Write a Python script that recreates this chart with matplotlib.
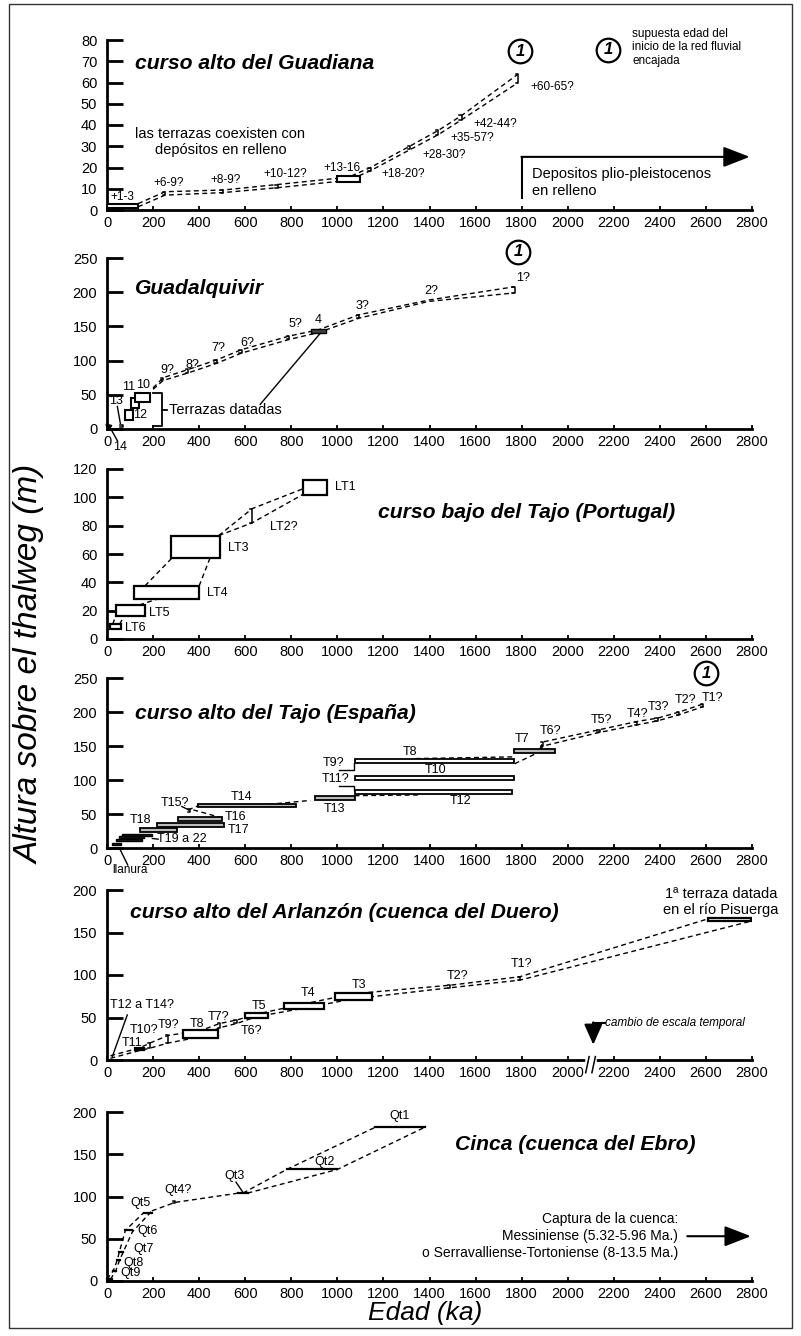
import matplotlib.pyplot as plt
from matplotlib.patches import Rectangle

plt.rcParams['font.family'] = ['Liberation Sans', 'DejaVu Sans']

W, H = 801, 1336
x_ticks = list(range(0, 2801, 200))

# panel frames in pixels: (row of y=0, row of y=max)
panel_px = [(210, 40), (429, 258), (639, 469), (848, 678), (1060, 890), (1281, 1112)]
panel_ymax = [80, 250, 120, 250, 200, 200]
panel_ystep = [10, 50, 20, 50, 50, 50]
panel_titles = ['curso alto del Guadiana', 'Guadalquivir', 'curso bajo del Tajo (Portugal)',
                'curso alto del Tajo (España)', 'curso alto del Arlanzón (cuenca del Duero)',
                'Cinca (cuenca del Ebro)']
title_x = [123, 123, 1178, 123, 101, 1512]
title_y = [69, 206, 89.6, 198.5, 174, 161]

# ---- curso alto del Guadiana
gd_box_x0 = [0, 1000]
gd_box_x1 = [135, 1100]
gd_box_y0 = [1, 13]
gd_box_y1 = [3, 16]
gd_x = [135, 252, 504, 741, 1050, 1144, 1317, 1439, 1540, 1785]
gd_lo = [1.5, 7.0, 8.2, 10.5, 14, 18.5, 28.5, 35.5, 42.5, 60]
gd_hi = [3.0, 8.6, 9.4, 12.0, 15.5, 20, 30.2, 37.5, 44.5, 64]
gd_lab = ['+1-3', '+6-9?', '+8-9?', '+10-12?', '+13-16', '+18-20?', '+28-30?', '+35-57?', '+42-44?', '+60-65?']
gd_lab_x = [66, 266, 513, 774, 1021, 1286, 1464, 1586, 1686, 1933]
gd_lab_y = [6.3, 12.7, 14.1, 16.9, 19.8, 16.9, 25.9, 33.9, 40.5, 57.9]

# ---- Guadalquivir
gq_box_x0 = [105, 122, 80]
gq_box_x1 = [140, 188, 115]
gq_box_y0 = [31, 40, 13]
gq_box_y1 = [45, 52, 28]
gq_dated_x = [886, 950]
gq_dated_y = [140, 146]
gq_x = [200, 244, 352, 476, 584, 792, 918, 1094, 1396, 1770]
gq_lo = [58, 71, 82, 96, 111, 131, 141, 162, 186.5, 199]
gq_hi = [60, 75, 87, 101, 116, 136, 145, 167, 188.5, 208]
gq_lab = ['9?', '8?', '7?', '6?', '5?', '4', '3?', '2?', '1?', '10', '11', '12', '13', '14']
gq_lab_x = [262, 371, 483, 609, 817, 917, 1108, 1408, 1807, 158, 92, 145, 40, 55]
gq_lab_y = [86, 93.6, 118, 126, 153.5, 159, 180, 202, 221, 64, 61, 20, 41, -27]

# ---- curso bajo del Tajo (Portugal)
tp_box_x0 = [850, 277, 118, 40, 15]
tp_box_x1 = [955, 490, 400, 165, 60]
tp_box_y0 = [102, 57, 28, 16.5, 7]
tp_box_y1 = [112, 73, 37.5, 24, 10.5]
tp_lab = ['LT1', 'LT2?', 'LT3', 'LT4', 'LT5', 'LT6']
tp_lab_x = [990, 709, 526, 435, 184, 80]
tp_lab_y = [107, 79, 64, 32.5, 18.4, 7.8]
tp_up_x = [485, 630, 850]
tp_up_y = [73, 92, 106]
tp_dn_x = [485, 630, 850]
tp_dn_y = [73, 82, 102]
tp_seg_x0 = [25, 55, 140, 165, 400]
tp_seg_y0 = [10.5, 10.5, 24, 37.5, 37.5]
tp_seg_x1 = [38, 75, 215, 281, 447]
tp_seg_y1 = [16.5, 16.5, 28, 57, 57]

# ---- curso alto del Tajo (España)
ta_box_x0 = [1075, 1075, 1075, 905, 395, 310, 215, 145, 1765]
ta_box_x1 = [1765, 1765, 1760, 1075, 820, 500, 510, 305, 1945]
ta_box_y0 = [125, 100, 79, 70, 60, 39, 31, 24, 140]
ta_box_y1 = [131, 106, 85, 76, 65, 45, 37, 30, 145]
ta_box_grey = [False, False, False, True, True, True, True, True, True]
ta_low_x0 = [67, 53, 40, 20]
ta_low_x1 = [197, 160, 150, 60]
ta_low_y0 = [18, 14, 10, 4]
ta_low_y1 = [21, 17, 13, 7]
ta_seg_x0 = [352, 375, 666, 1075, 1340, 1770]
ta_seg_y0 = [56, 56, 63, 77, 131.5, 124]
ta_seg_x1 = [395, 492, 883, 1360, 1765, 1870]
ta_seg_y1 = [62, 45, 70, 78, 134, 140]
ta_x = [1880, 1893, 2138, 2300, 2390, 2484, 2589]
ta_lo = [144, 150, 170, 181, 187, 196, 208]
ta_hi = [146, 156, 174, 186, 191, 200, 212]
ta_lab = ['T8', 'T9?', 'T10', 'T11?', 'T12', 'T13', 'T14', 'T15?', 'T16', 'T17', 'T18', 'T19 a 22',
          'llanura', 'T7', 'T6?', 'T5?', 'T4?', 'T3?', 'T2?', 'T1?']
ta_lab_x = [1317, 982, 1425, 991, 1533, 987, 583, 297, 557, 570, 145, 323,
            100, 1803, 1924, 2146, 2302, 2393, 2510, 2627]
ta_lab_y = [141, 125, 115, 101.5, 69, 57, 75, 66, 45.6, 26.5, 41, 13,
            -33, 160, 172, 188, 197, 207, 217.6, 220.6]

# ---- curso alto del Arlanzón
ar_box_x0 = [120, 330, 600, 770, 990, 2610]
ar_box_x1 = [160, 480, 700, 940, 1150, 2795]
ar_box_y0 = [12, 26, 50, 60, 71, 163]
ar_box_y1 = [14, 35, 55, 67, 79, 167]
ar_x = [15, 140, 187, 266, 400, 490, 563, 650, 855, 1070, 1490, 1793]
ar_lo = [2, 11, 14, 20, 27, 38, 43, 51, 61, 72, 85, 94]
ar_hi = [5, 14, 20, 29, 34, 43, 47, 54, 66, 78, 88, 98]
ar_end_lo = [2790, 163]
ar_end_hi = [2620, 167]
ar_lab = ['T12 a T14?', 'T11', 'T10?', 'T9?', 'T8', 'T7?', 'T6?', 'T5', 'T4', 'T3', 'T2?', 'T1?']
ar_lab_x = [150, 110, 162, 266, 392, 483, 626, 661, 874, 1095, 1520, 1798]
ar_lab_y = [64.7, 20, 35, 41, 42, 50.6, 34, 63.5, 79, 88, 99, 113]

# ---- Cinca
ci_seg_x0 = [1165, 780, 570, 160, 80, 53, 45, 27, 0]
ci_seg_x1 = [1380, 1000, 610, 195, 110, 70, 55, 38, 20]
ci_seg_y = [182, 132, 104, 81, 60, 34, 25, 12, 2]
ci_lu_x = [0, 27, 45, 53, 80, 160]
ci_lu_y = [2, 12, 25, 34, 60, 81]
ci_ld_x = [15, 38, 55, 70, 110, 195]
ci_ld_y = [2, 12, 25, 34, 58, 83]
ci_mid_x = [195, 295, 570]
ci_mid_y = [83, 93, 104]
ci_ru_x = [590, 780, 1165]
ci_ru_y = [104, 132, 182]
ci_rd_x = [610, 1000, 1380]
ci_rd_y = [104, 132, 182]
ci_lab = ['Qt1', 'Qt2', 'Qt3', 'Qt4?', 'Qt5']
ci_lab_x = [1269, 945, 553, 310, 145]
ci_lab_y = [195, 141, 124, 108, 92]
ci_lab2 = ['Qt6', 'Qt7', 'Qt8', 'Qt9']
ci_lab2_x = [132, 115, 72, 58]
ci_lab2_y = [59, 38, 21, 9.5]

DASH = (0, (3.5, 2.5))


def box(ax, x0, x1, y0, y1, fc='white', lw=1.3):
    ax.add_patch(Rectangle((x0, y0), x1 - x0, y1 - y0, fc=fc, ec='black', lw=lw, zorder=4))


def dash(ax, xs, ys, lw=1.0):
    ax.plot(xs, ys, color='black', lw=lw, ls=DASH, zorder=3, clip_on=False)


def qmark(ax, xs, lo, hi):
    for x, a, b in zip(xs, lo, hi):
        ax.plot([x - 10, x, x, x - 10], [a, a, b, b], color='black', lw=1.1, zorder=4)


def circle_one(ax, x, y):
    ax.plot(x, y, 'o', ms=17, mfc='white', mec='black', mew=1.6, clip_on=False, zorder=6)
    ax.text(x, y, '1', ha='center', va='center', fontsize=12, fontweight='bold',
            style='italic', zorder=7, clip_on=False)


def labels(ax, txt, xs, ys, ha='center', fs=8.5):
    for t, x, y in zip(txt, xs, ys):
        ax.text(x, y, t, ha=ha, va='center', fontsize=fs, clip_on=False, zorder=6)


def line(ax, xs, ys, lw=1.0):
    ax.plot(xs, ys, color='black', lw=lw, zorder=5, clip_on=False)


fig = plt.figure(figsize=(W / 100, H / 100), dpi=100)
axes = []
for i, (p0, p1) in enumerate(panel_px):
    ax = fig.add_axes([107 / W, 1 - p0 / H, 645 / W, (p0 - p1) / H])
    ax.set_xlim(0, 2800)
    ax.set_ylim(0, panel_ymax[i])
    ax.set_xticks(x_ticks)
    ax.set_yticks(range(0, panel_ymax[i] + 1, panel_ystep[i]))
    for s in ['top', 'right']:
        ax.spines[s].set_visible(False)
    for s in ['left', 'bottom']:
        ax.spines[s].set_linewidth(2)
    ax.tick_params(axis='y', direction='in', length=11.5, width=2, pad=7, labelsize=10.5)
    ax.tick_params(axis='x', direction='in', length=3, width=1.3, pad=4, labelsize=10.5)
    ax.text(title_x[i], title_y[i], panel_titles[i], fontsize=15.2, fontweight='bold',
            style='italic', va='center', ha='left')
    axes.append(ax)

# 1 Guadiana
ax = axes[0]
dash(ax, gd_x, gd_lo)
dash(ax, gd_x, gd_hi)
for a, b, c, d in zip(gd_box_x0, gd_box_x1, gd_box_y0, gd_box_y1):
    box(ax, a, b, c, d, lw=1.5)
qmark(ax, gd_x[1:4] + gd_x[5:], gd_lo[1:4] + gd_lo[5:], gd_hi[1:4] + gd_hi[5:])
labels(ax, gd_lab, gd_lab_x, gd_lab_y)
circle_one(ax, 1794, 74.8)
circle_one(ax, 2176, 75.3)
ax.text(2280, 76.5, 'supuesta edad del\ninicio de la red fluvial\nencajada', fontsize=8.5,
        va='center', ha='left', linespacing=1.15)
ax.text(492, 32, 'las terrazas coexisten con\ndepósitos en relleno', fontsize=10.5,
        ha='center', va='center', linespacing=1.25)
line(ax, [1800, 1800], [5.5, 25], lw=1.5)
ax.annotate('', xy=(2790, 25), xytext=(1799, 25),
            arrowprops=dict(arrowstyle='-|>,head_length=0.9,head_width=0.35', lw=1.5,
                            color='black', mutation_scale=18, shrinkA=0, shrinkB=0))
ax.text(1846, 13, 'Depositos plio-pleistocenos\nen relleno', fontsize=10.5, ha='left',
        va='center', linespacing=1.25)

# 2 Guadalquivir
ax = axes[1]
dash(ax, gq_x, gq_lo)
dash(ax, gq_x, gq_hi)
for a, b, c, d in zip(gq_box_x0, gq_box_x1, gq_box_y0, gq_box_y1):
    box(ax, a, b, c, d, lw=1.5)
box(ax, gq_dated_x[0], gq_dated_x[1], gq_dated_y[0], gq_dated_y[1], fc='#444444', lw=1.0)
qmark(ax, gq_x[1:6] + gq_x[7:8] + gq_x[9:], gq_lo[1:6] + gq_lo[7:8] + gq_lo[9:],
      gq_hi[1:6] + gq_hi[7:8] + gq_hi[9:])
labels(ax, gq_lab, gq_lab_x, gq_lab_y, fs=9)
qmark(ax, [68], [3], [6])
line(ax, [45, 58], [33, 8])
line(ax, [10, 45], [4, -17])
ax.plot(6, 4, marker=(3, 0, 45), ms=5, color='black', clip_on=False, zorder=5)
line(ax, [200, 240, 240, 200], [52, 52, 5, 5], lw=1.3)
line(ax, [240, 262], [28, 28], lw=1.3)
ax.text(268, 28, 'Terrazas datadas', fontsize=10.5, va='center', ha='left')
line(ax, [926, 665], [140, 36])
circle_one(ax, 1785, 259)

# 3 Tajo Portugal
ax = axes[2]
dash(ax, tp_up_x, tp_up_y)
dash(ax, tp_dn_x, tp_dn_y)
for a, b, c, d in zip(tp_seg_x0, tp_seg_y0, tp_seg_x1, tp_seg_y1):
    dash(ax, [a, c], [b, d])
for a, b, c, d in zip(tp_box_x0, tp_box_x1, tp_box_y0, tp_box_y1):
    box(ax, a, b, c, d, lw=1.6)
qmark(ax, [630], [82], [92])
labels(ax, tp_lab, tp_lab_x, tp_lab_y, ha='left', fs=9)

# 4 Tajo Espana
ax = axes[3]
for a, b, c, d in zip(ta_seg_x0, ta_seg_y0, ta_seg_x1, ta_seg_y1):
    dash(ax, [a, c], [b, d])
dash(ax, ta_x, ta_lo)
dash(ax, ta_x, ta_hi)
for a, b, c, d, g in zip(ta_box_x0, ta_box_x1, ta_box_y0, ta_box_y1, ta_box_grey):
    box(ax, a, b, c, d, fc='#bbbbbb' if g else 'white', lw=1.3)
for a, b, c, d in zip(ta_low_x0, ta_low_x1, ta_low_y0, ta_low_y1):
    box(ax, a, b, c, d, fc='#222222', lw=1.0)
qmark(ax, ta_x[1:], ta_lo[1:], ta_hi[1:])
qmark(ax, [360], [53], [58])
labels(ax, ta_lab[:12] + ta_lab[13:], ta_lab_x[:12] + ta_lab_x[13:],
       ta_lab_y[:12] + ta_lab_y[13:], fs=9)
labels(ax, ta_lab[12:13], ta_lab_x[12:13], ta_lab_y[12:13], fs=8.5)
line(ax, [1005, 1072, 1072], [115, 115, 125])
line(ax, [1005, 1072, 1072], [91, 91, 85])
line(ax, [325, 355], [61, 56])
line(ax, [58, 90], [-3, -25])
line(ax, [197, 222], [14, 13])
circle_one(ax, 2601, 257)

# 5 Arlanzon
ax = axes[4]
dash(ax, ar_x + [ar_end_lo[0]], ar_lo + [ar_end_lo[1]])
dash(ax, ar_x + [ar_end_hi[0]], ar_hi + [ar_end_hi[1]])
for a, b, c, d in zip(ar_box_x0, ar_box_x1, ar_box_y0, ar_box_y1):
    box(ax, a, b, c, d, lw=1.6)
qmark(ax, ar_x[2:4] + ar_x[5:7] + ar_x[10:], ar_lo[2:4] + ar_lo[5:7] + ar_lo[10:],
      ar_hi[2:4] + ar_hi[5:7] + ar_hi[10:])
labels(ax, ar_lab, ar_lab_x, ar_lab_y, fs=9)
line(ax, [88, 23], [53, 4])
ax.text(2666, 186, '1ª terraza datada\nen el río Pisuerga', fontsize=10.5, ha='center',
        va='center', linespacing=1.2)
ax.text(2163, 43.5, 'cambio de escala temporal', fontsize=8.5, style='italic',
        ha='left', va='center')
line(ax, [2160, 2111], [43.5, 43.5], lw=1.5)
ax.annotate('', xy=(2111, 18), xytext=(2111, 44.2),
            arrowprops=dict(arrowstyle='-|>,head_length=0.9,head_width=0.4', lw=1.5,
                            color='black', mutation_scale=14, shrinkA=0, shrinkB=0))
ax.plot([2088, 2112], [0, 0], color='white', lw=4, zorder=5, clip_on=False)
line(ax, [2078, 2093], [-15, 4], lw=1.1)
line(ax, [2105, 2120], [-15, 4], lw=1.1)

# 6 Cinca
ax = axes[5]
dash(ax, ci_lu_x, ci_lu_y)
dash(ax, ci_ld_x, ci_ld_y)
dash(ax, ci_mid_x, ci_mid_y)
dash(ax, ci_ru_x, ci_ru_y)
dash(ax, ci_rd_x, ci_rd_y)
for a, b, y in zip(ci_seg_x0, ci_seg_x1, ci_seg_y):
    line(ax, [a, b], [y, y], lw=1.6)
qmark(ax, [295], [92], [95])
labels(ax, ci_lab, ci_lab_x, ci_lab_y, fs=9)
labels(ax, ci_lab2, ci_lab2_x, ci_lab2_y, ha='left', fs=9)
line(ax, [560, 590], [117, 105])
ax.text(2480, 53.3, 'Captura de la cuenca:\nMessiniense (5.32-5.96 Ma.)\no Serravalliense-Tortoniense (8-13.5 Ma.)',
        fontsize=10, ha='right', va='center', linespacing=1.3)
ax.annotate('', xy=(2795, 53), xytext=(2519, 53),
            arrowprops=dict(arrowstyle='-|>,head_length=0.9,head_width=0.35', lw=1.5,
                            color='black', mutation_scale=18, shrinkA=0, shrinkB=0))

fig.text(30 / W, 1 - 664 / H, 'Altura sobre el thalweg (m)', rotation=90, fontsize=24,
         style='italic', ha='center', va='center')
fig.text(425 / W, 1 - 1313 / H, 'Edad (ka)', fontsize=19, style='italic',
         ha='center', va='center')
fig.patches.append(Rectangle((9 / W, 1 - 1328 / H), 783 / W, 1324 / H, fill=False,
                             ec='#333333', lw=1, transform=fig.transFigure, figure=fig))

fig.savefig('out.png', dpi=100)
